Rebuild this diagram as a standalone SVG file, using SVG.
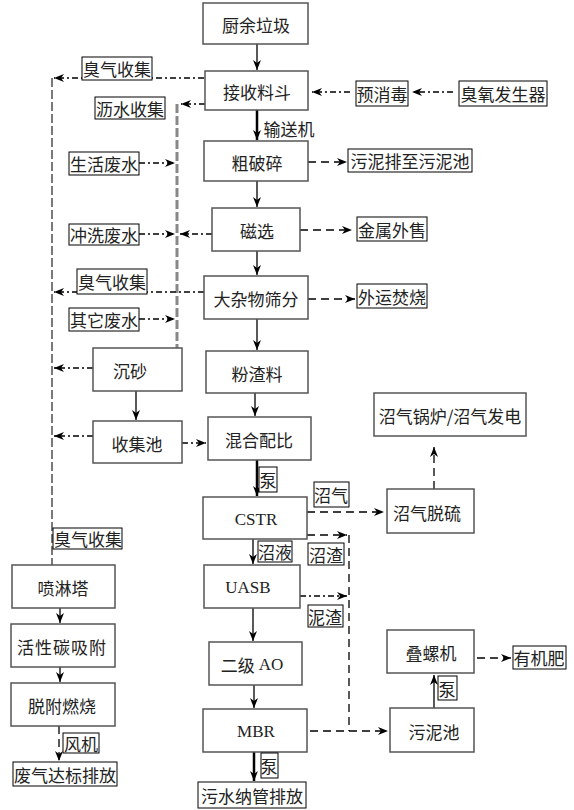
<svg xmlns="http://www.w3.org/2000/svg" width="574" height="810" viewBox="0 0 574 810">
<defs>
<marker id="arr" markerUnits="userSpaceOnUse" markerWidth="10" markerHeight="8" refX="10" refY="4" orient="auto">
<path d="M0,0 L10,4 L0,8 L3,4 Z" fill="#000"/>
</marker>
</defs>
<style>
.box{fill:#fff;stroke:#555;stroke-width:1.5}
.lbl{fill:#fff;stroke:#000;stroke-width:1}
text{font-family:"Noto Sans CJK SC","Noto Sans",sans-serif;font-size:17px;fill:#222;text-anchor:middle;dominant-baseline:central}
.lat{font-family:"Liberation Serif","Noto Sans CJK SC",serif;font-size:17px}
.s{fill:none;stroke:#000;stroke-width:1.3}
.t{fill:none;stroke:#000;stroke-width:2.5}
.d{fill:none;stroke:#000;stroke-width:1.3;stroke-dasharray:8 5}
.dd{fill:none;stroke:#000;stroke-width:1.3;stroke-dasharray:6 3 2 3}
.v{fill:none;stroke:#333;stroke-width:1.3;stroke-dasharray:9 3}
.g{fill:none;stroke:#888;stroke-width:3;stroke-dasharray:9 3}
</style>
<rect width="574" height="810" fill="#fff"/>
<g id="connectors">
<path class="s" d="M257,44 V70" marker-end="url(#arr)"/>
<path class="t" d="M257,110 V140" marker-end="url(#arr)"/>
<path class="s" d="M257,181 V207" marker-end="url(#arr)"/>
<path class="s" d="M257,251 V275" marker-end="url(#arr)"/>
<path class="s" d="M257,319 V350" marker-end="url(#arr)"/>
<path class="s" d="M255,393 V416" marker-end="url(#arr)"/>
<path class="t" d="M257,460 V496" marker-end="url(#arr)"/>
<path class="s" d="M253,539 V564" marker-end="url(#arr)"/>
<path class="s" d="M253,608 V641" marker-end="url(#arr)"/>
<path class="s" d="M254,685 V708" marker-end="url(#arr)"/>
<path class="t" d="M254,752 V781" marker-end="url(#arr)"/>
<path class="v" d="M52,78 V565"/>
<path class="dd" d="M204,78 H54" marker-end="url(#arr)"/>
<path class="dd" d="M350,92 H312" marker-end="url(#arr)"/>
<path class="dd" d="M453,92 H412" marker-end="url(#arr)"/>
<path class="dd" d="M205,104 H181" marker-end="url(#arr)"/>
<path class="g" d="M177,104 V348"/>
<path class="dd" d="M139,163 H175" marker-end="url(#arr)"/>
<path class="dd" d="M139,234 H175" marker-end="url(#arr)"/>
<path class="dd" d="M212,234 H180" marker-end="url(#arr)"/>
<path class="d" d="M308,162 H347" marker-end="url(#arr)"/>
<path class="d" d="M300,230 H352" marker-end="url(#arr)"/>
<path class="dd" d="M204,292 H54" marker-end="url(#arr)"/>
<path class="dd" d="M139,319 H175" marker-end="url(#arr)"/>
<path class="d" d="M308,299 H355" marker-end="url(#arr)"/>
<path class="dd" d="M93,368 H54" marker-end="url(#arr)"/>
<path class="s" d="M136,391 V420" marker-end="url(#arr)"/>
<path class="dd" d="M93,436 H54" marker-end="url(#arr)"/>
<path class="dd" d="M182,443 H206" stroke-width="1.8" marker-end="url(#arr)"/>
<path class="d" d="M307,512 H384" marker-end="url(#arr)"/>
<path class="d" d="M434,489 V447" marker-end="url(#arr)"/>
<path class="d" d="M307,535 H347" marker-end="url(#arr)"/>
<path class="d" d="M349,535 V731"/>
<path class="dd" d="M300,596 H347" marker-end="url(#arr)"/>
<path class="d" d="M310,731 H388" marker-end="url(#arr)"/>
<path class="s" d="M434,708 V675" marker-end="url(#arr)"/>
<path class="d" d="M477,658 H511" marker-end="url(#arr)"/>
<path class="s" d="M60,608 V623" marker-end="url(#arr)"/>
<path class="s" d="M60,667 V682" marker-end="url(#arr)"/>
<path class="d" d="M59,726 V761" stroke-dasharray="5 2" marker-end="url(#arr)"/>
</g>
<g id="n1"><rect class="box" x="203" y="3" width="105" height="41"/><text x="256" y="24">厨余垃圾</text></g>
<g id="n2"><rect class="box" x="205" y="71" width="103" height="39"/><text x="257" y="91">接收料斗</text></g>
<g id="lbl-conveyor"><text x="289" y="128">输送机</text></g>
<g id="n3"><rect class="box" x="204" y="141" width="104" height="40"/><text x="257" y="162">粗破碎</text></g>
<g id="n4"><rect class="box" x="212" y="208" width="88" height="43"/><text x="257" y="230">磁选</text></g>
<g id="n5"><rect class="box" x="204" y="276" width="104" height="43"/><text x="256" y="298">大杂物筛分</text></g>
<g id="n6"><rect class="box" x="206" y="351" width="102" height="42"/><text x="257" y="373">粉渣料</text></g>
<g id="n7"><rect class="box" x="208" y="417" width="103" height="43"/><text x="259" y="439">混合配比</text></g>
<g id="n8"><rect class="box" x="203" y="497" width="104" height="42"/><text class="lat" x="256" y="519">CSTR</text></g>
<g id="n9"><rect class="box" x="204" y="565" width="96" height="43"/><text class="lat" x="248" y="587">UASB</text></g>
<g id="n10"><rect class="box" x="209" y="642" width="93" height="43"/><text x="252" y="664">二级 <tspan class="lat">AO</tspan></text></g>
<g id="n11"><rect class="box" x="203" y="709" width="104" height="43"/><text class="lat" x="256" y="731">MBR</text></g>
<g id="n12"><rect class="lbl" x="198" y="782" width="108" height="26"/><text x="252" y="795">污水纳管排放</text></g>
<g id="n13"><rect class="box" x="93" y="348" width="89" height="43"/><text x="130" y="370">沉砂</text></g>
<g id="n14"><rect class="box" x="93" y="421" width="89" height="42"/><text x="137" y="443">收集池</text></g>
<g id="n15"><rect class="box" x="12" y="565" width="103" height="43"/><text x="63" y="587">喷淋塔</text></g>
<g id="n16"><rect class="box" x="11" y="624" width="104" height="43"/><text x="62" y="646" letter-spacing="1">活性碳吸附</text></g>
<g id="n17"><rect class="box" x="11" y="683" width="104" height="43"/><text x="62" y="705">脱附燃烧</text></g>
<g id="n18"><rect class="lbl" x="13" y="762" width="104" height="24"/><text x="65" y="774">废气达标排放</text></g>
<g id="n19"><rect class="box" x="374" y="393" width="152" height="43"/><text x="450" y="415">沼气锅炉/沼气发电</text></g>
<g id="n20"><rect class="box" x="387" y="489" width="87" height="44"/><text x="427" y="512">沼气脱硫</text></g>
<g id="n21"><rect class="box" x="387" y="630" width="87" height="43"/><text x="431" y="652">叠螺机</text></g>
<g id="n22"><rect class="box" x="390" y="708" width="84" height="44"/><text x="434" y="731">污泥池</text></g>
<g id="l1"><rect class="lbl" x="82" y="57" width="70" height="23"/><text x="117" y="68">臭气收集</text></g>
<g id="l2"><rect class="lbl" x="95" y="97" width="70" height="22"/><text x="130" y="108">沥水收集</text></g>
<g id="l3"><rect class="lbl" x="69" y="152" width="70" height="23"/><text x="104" y="163">生活废水</text></g>
<g id="l4"><rect class="lbl" x="69" y="224" width="70" height="21"/><text x="104" y="234">冲洗废水</text></g>
<g id="l5"><rect class="lbl" x="77" y="269" width="70" height="25"/><text x="112" y="281">臭气收集</text></g>
<g id="l6"><rect class="lbl" x="69" y="308" width="70" height="23"/><text x="104" y="319">其它废水</text></g>
<g id="l7"><rect class="lbl" x="53" y="528" width="69" height="21"/><text x="88" y="538">臭气收集</text></g>
<g id="l8"><rect class="lbl" x="356" y="81" width="52" height="25"/><text x="382" y="93">预消毒</text></g>
<g id="l9"><rect class="lbl" x="459" y="81" width="88" height="25"/><text x="503" y="93">臭氧发生器</text></g>
<g id="l10"><rect class="lbl" x="348" y="149" width="124" height="23"/><text x="410" y="160">污泥排至污泥池</text></g>
<g id="l11"><rect class="lbl" x="357" y="217" width="70" height="24"/><text x="392" y="229">金属外售</text></g>
<g id="l12"><rect class="lbl" x="357" y="284" width="70" height="24"/><text x="392" y="296">外运焚烧</text></g>
<g id="l13"><rect class="lbl" x="513" y="646" width="53" height="23"/><text x="539" y="657">有机肥</text></g>
<g id="l14"><rect class="lbl" x="259" y="467" width="18" height="25"/><text x="268" y="479">泵</text></g>
<g id="l15"><rect class="lbl" x="258" y="541" width="34" height="21"/><text x="275" y="551">沼液</text></g>
<g id="l16"><rect class="lbl" x="314" y="482" width="35" height="25"/><text x="331" y="494">沼气</text></g>
<g id="l17"><rect class="lbl" x="308" y="543" width="36" height="22"/><text x="326" y="554">沼渣</text></g>
<g id="l18"><rect class="lbl" x="308" y="605" width="35" height="22"/><text x="325" y="616">泥渣</text></g>
<g id="l19"><rect class="lbl" x="438" y="676" width="19" height="24"/><text x="447" y="688">泵</text></g>
<g id="l20"><rect class="lbl" x="63" y="733" width="36" height="20"/><text x="81" y="743">风机</text></g>
<g id="l21"><rect class="lbl" x="261" y="753" width="17" height="25"/><text x="269" y="765">泵</text></g>
</svg>
